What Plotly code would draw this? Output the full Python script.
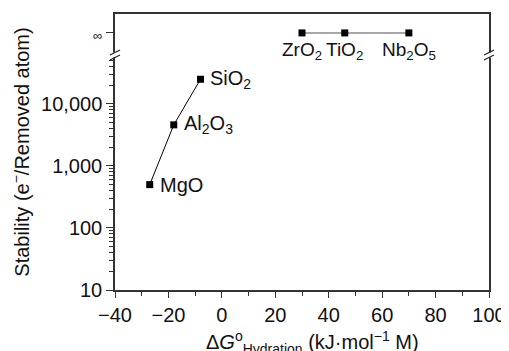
import numpy as np
import plotly.graph_objects as go

# ---- data ----
low_names = ["MgO", "Al<sub>2</sub>O<sub>3</sub>", "SiO<sub>2</sub>"]
low_dg = [-27, -18, -8]
low_stab = [500, 4600, 25000]

inf_names = ["ZrO<sub>2</sub>", "TiO<sub>2</sub>", "Nb<sub>2</sub>O<sub>5</sub>"]
inf_dg = [30, 46, 70]

y_tick_vals = [10, 100, 1000, 10000]
y_tick_text = ["10", "100", "1,000", "10,000"]
x_tick_vals = [-40, -20, 0, 20, 40, 60, 80, 100]
x_tick_text = ["\u221240", "\u221220", "0", "20", "40", "60", "80", "100"]

INF_LOG = 5.145          # position used to represent "infinity" on the log axis
INF_VAL = 10 ** INF_LOG
inf_stab = [INF_VAL] * len(inf_dg)

minor_vals = [m * 10 ** e for e in range(1, 5) for m in range(2, 10) if m * 10 ** e < 60000]

FONT = "Liberation Sans, Arial, sans-serif"
FS = 20

# page body has an 8px margin -> figure drawn at (8, 8) in the window
OFF = 8
FW, FH = 509 - OFF, 351 - OFF
L, R, T, B = 115 - OFF, 489 - OFF, 14 - OFF, 290 - OFF   # plot area in figure pixels
W, H = R - L, B - T

fig = go.Figure()
fig.add_trace(go.Scatter(x=low_dg, y=low_stab, mode="lines+markers",
                         line=dict(color="black", width=1),
                         marker=dict(symbol="square", size=7, color="black"),
                         showlegend=False))
fig.add_trace(go.Scatter(x=inf_dg, y=inf_stab, mode="lines+markers",
                         line=dict(color="#8a8a8a", width=1.5),
                         marker=dict(symbol="square", size=7, color="black"),
                         showlegend=False))

def px(xp):
    return (xp - L) / W
def py(yp):
    return (B - yp) / H

ann = []
for n, x, y in zip(low_names, low_dg, low_stab):
    ann.append(dict(x=x, y=np.log10(y), xref="x", yref="y", text=n, showarrow=False,
                    xanchor="left", yanchor="middle", xshift=8, font=dict(size=FS, color="#111", family=FONT)))
for n, x, y in zip(inf_names, inf_dg, inf_stab):
    ann.append(dict(x=x, y=np.log10(y), xref="x", yref="y", text=n, showarrow=False,
                    xanchor="center", yanchor="middle", yshift=-18, font=dict(size=19, color="#111", family=FONT)))
# x-axis title
ann.append(dict(x=px(312 - OFF), y=py(342 - OFF), xref="paper", yref="paper", showarrow=False,
                xanchor="center", yanchor="middle",
                text="Δ<i>G</i><sup>o</sup><sub>Hydration</sub> (kJ·mol<sup>−1</sup> M)",
                font=dict(size=FS, color="#111", family=FONT)))

# axis-break marks
shapes = []
for xa in (L, R):
    yc = 55 - OFF
    shapes.append(dict(type="line", xref="paper", yref="paper", x0=px(xa), x1=px(xa),
                       y0=py(yc + 2.5), y1=py(yc - 2.5), line=dict(color="white", width=4)))
    for dy in (-2.5, 2.5):
        shapes.append(dict(type="line", xref="paper", yref="paper",
                           x0=px(xa - 5), y0=py(yc + dy + 2.5), x1=px(xa + 5), y1=py(yc + dy - 2.5),
                           line=dict(color="#222", width=1.2)))

fig.update_layout(
    width=FW, height=FH,
    margin=dict(l=L, r=FW - R, t=T, b=FH - B),
    paper_bgcolor="white", plot_bgcolor="white",
    font=dict(family=FONT, size=FS, color="#111"),
    annotations=ann, shapes=shapes,
    xaxis=dict(range=[-40, 100], tickvals=x_tick_vals, ticktext=x_tick_text,
               ticks="outside", ticklen=6, tickwidth=1.2, tickcolor="#333",
               showline=True, linecolor="#333", linewidth=1.5, mirror=True,
               showgrid=False, zeroline=False, automargin=False,
               minor=dict(tickvals=[-30, -10, 10, 30, 50, 70, 90], ticks="outside", ticklen=4, tickcolor="#333", showgrid=False),
               tickfont=dict(size=FS)),
    yaxis=dict(type="log", range=[1, 5.45],
               tickvals=y_tick_vals + [INF_VAL],
               ticktext=y_tick_text + ["<span style='font-size:13px'>\u221e</span>"],
               ticks="outside", ticklen=7, tickwidth=1.2, tickcolor="#333",
               showline=True, linecolor="#333", linewidth=1.5, mirror=True,
               showgrid=False, zeroline=False, automargin=False,
               minor=dict(tickvals=minor_vals, ticks="outside", ticklen=4, tickcolor="#333", showgrid=False),
               title=dict(text="Stability (e<sup>−</sup>/Removed atom)", font=dict(size=FS), standoff=10),
               tickfont=dict(size=FS)),
)

fig.write_html("out.html")
